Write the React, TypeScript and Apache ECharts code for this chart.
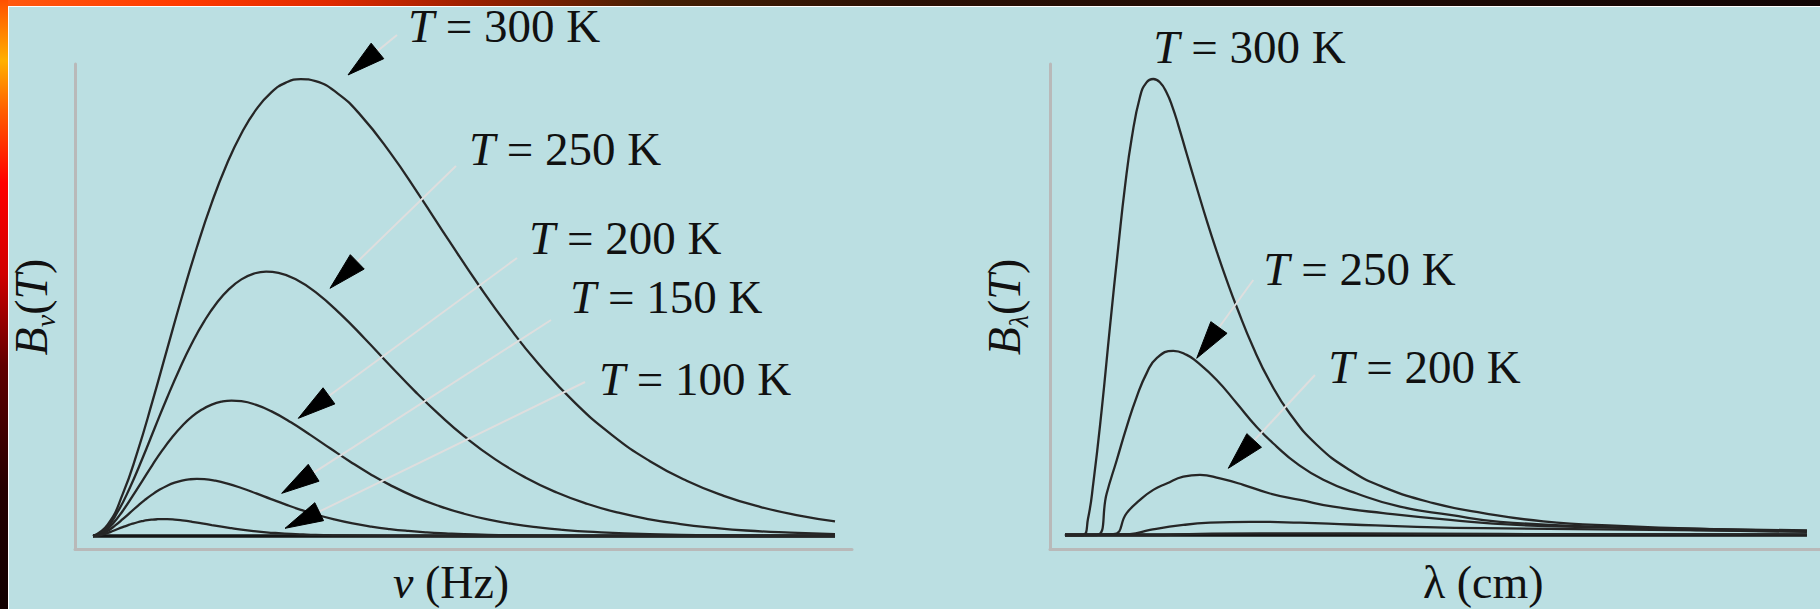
import React, { useEffect, useRef } from 'react';
import * as echarts from 'echarts';

// ---------- Left panel: B_nu(T) vs nu (arbitrary units, peak of 300 K = 100) ----------
const nuX300 = [0, 2, 4, 6, 8, 10, 12, 14, 16, 18, 20, 22, 24, 26, 28, 30, 33, 36, 40, 44, 48, 52, 56, 60, 65, 70, 75, 80, 85, 90, 95, 100];
const nuY300 = [0, 2.54, 9.15, 18.48, 29.39, 40.94, 52.4, 63.18, 72.9, 81.25, 88.09, 93.34, 97.03, 99.2, 99.99, 99.52, 96.81, 92.2, 84.0, 74.49, 64.57, 54.87, 45.86, 37.76, 29.09, 22.03, 16.43, 12.09, 8.79, 6.33, 4.52, 3.19];
const nuX250 = [0, 1.67, 3.33, 5, 6.67, 8.33, 10, 11.67, 13.33, 15, 16.67, 18.33, 20, 21.67, 23.33, 25, 27.5, 30, 33.33, 36.67, 40, 43.33, 46.67, 50, 54.17, 58.33, 62.5, 66.67, 70.83, 75, 79.17, 83.33, 88, 94, 100];
const nuY250 = [0, 1.47, 5.3, 10.69, 17.01, 23.69, 30.32, 36.56, 42.19, 47.02, 50.98, 54.02, 56.15, 57.41, 57.87, 57.59, 56.02, 53.36, 48.61, 43.11, 37.37, 31.75, 26.54, 21.85, 16.83, 12.75, 9.51, 7.0, 5.09, 3.66, 2.62, 1.85, 1.2, 0.73, 0.43];
const nuX200 = [0, 1.33, 2.67, 4, 5.33, 6.67, 8, 9.33, 10.67, 12, 13.33, 14.67, 16, 17.33, 18.67, 20, 22, 24, 26.67, 29.33, 32, 34.67, 37.33, 40, 43.33, 46.67, 50, 53.33, 56.67, 60, 63.33, 66.67, 75, 85, 100];
const nuY200 = [0, 0.75, 2.71, 5.48, 8.71, 12.13, 15.53, 18.72, 21.6, 24.07, 26.1, 27.66, 28.75, 29.39, 29.63, 29.49, 28.68, 27.32, 24.89, 22.07, 19.13, 16.26, 13.59, 11.19, 8.62, 6.53, 4.87, 3.58, 2.6, 1.88, 1.34, 0.95, 0.39, 0.12, 0.02];
const nuX150 = [0, 1, 2, 3, 4, 5, 6, 7, 8, 9, 10, 11, 12, 13, 14, 15, 16.5, 18, 20, 22, 24, 26, 28, 30, 32.5, 35, 37.5, 40, 42.5, 45, 47.5, 50, 60, 75, 100];
const nuY150 = [0, 0.32, 1.14, 2.31, 3.67, 5.12, 6.55, 7.9, 9.11, 10.16, 11.01, 11.67, 12.13, 12.4, 12.5, 12.44, 12.1, 11.53, 10.5, 9.31, 8.07, 6.86, 5.73, 4.72, 3.64, 2.75, 2.05, 1.51, 1.1, 0.79, 0.57, 0.4, 0.09, 0.01, 0];
const nuX100 = [0, 0.67, 1.33, 2, 2.67, 3.33, 4, 4.67, 5.33, 6, 6.67, 7.33, 8, 8.67, 9.33, 10, 11, 12, 13.33, 14.67, 16, 17.33, 18.67, 20, 21.67, 23.33, 25, 26.67, 28.33, 30, 31.67, 33.33, 40, 50, 100];
const nuY100 = [0, 0.09, 0.34, 0.68, 1.09, 1.52, 1.94, 2.34, 2.7, 3.01, 3.26, 3.46, 3.59, 3.67, 3.7, 3.69, 3.59, 3.41, 3.11, 2.76, 2.39, 2.03, 1.7, 1.4, 1.08, 0.81, 0.61, 0.45, 0.33, 0.23, 0.17, 0.12, 0.03, 0.003, 0];
const nuBaseX = [0, 100];
const nuBaseY = [0, 0];

// ---------- Right panel: B_lambda(T) vs lambda ----------
const lamX300 = [0.93, 3.3, 4.0, 4.71, 5.83, 6.94, 8.05, 8.95, 9.84, 10.95, 11.8, 12.72, 13.6, 14.51, 15.3, 16.06, 17.18, 18.52, 19.85, 21.19, 22.52, 23.86, 26.07, 28.3, 30.97, 34.54, 38.99, 43.43, 50.11, 56.78, 64.79, 75, 87, 100];
const lamY300 = [0, 0, 3.5, 11.3, 27.4, 45.7, 63.2, 76.5, 87.0, 96.1, 99.2, 100, 99.3, 97.0, 93.8, 89.9, 83.6, 76.2, 69.0, 62.2, 55.9, 50.0, 41.1, 33.6, 26.6, 19.8, 14.2, 10.5, 7.0, 4.8, 3.0, 2.0, 1.3, 0.9];
const lamX250 = [0.93, 5.17, 6.5, 7.84, 9.17, 10.51, 11.84, 13.18, 15.39, 17.18, 18.52, 21.19, 23.86, 26.53, 29.2, 31.87, 35.42, 39.88, 45.66, 52.34, 59.01, 72.4, 85.7, 100];
const lamY250 = [0, 0, 9.1, 16.4, 23.7, 30.3, 35.5, 38.8, 40.4, 39.5, 38.0, 34.0, 28.9, 23.7, 19.4, 15.7, 12.1, 9.1, 6.2, 4.4, 2.9, 1.8, 1.1, 0.7];
const lamX200 = [0.93, 7.38, 9.17, 10.95, 12.72, 14.51, 16.73, 18.96, 21.63, 24.74, 28.3, 32.31, 36.76, 43.43, 52.34, 61.24, 79.1, 100];
const lamY200 = [0, 0.2, 4.8, 7.7, 9.9, 11.3, 12.8, 13.2, 12.4, 11.0, 9.1, 7.7, 6.2, 4.8, 3.3, 2.2, 1.5, 1.0];
const lamX150 = [0.93, 9.6, 12.28, 16.73, 20.29, 25.63, 32.31, 38.99, 47.89, 56.78, 100];
const lamY150 = [0, 0.2, 1.1, 2.2, 2.7, 2.9, 2.7, 2.3, 1.8, 1.5, 0.8];
const lamX100 = [0.93, 12.3, 18.96, 26.97, 38.99, 59.0, 100];
const lamY100 = [0, 0, 0.25, 0.37, 0.33, 0.22, 0.1];
const lamBaseX = [0.93, 100];
const lamBaseY = [0, 0];

// ---------- Annotations (in data units) ----------
const nuTemps = [300, 250, 200, 150, 100];
const nuLabelU = [42.45, 50.67, 58.76, 64.29, 68.19];
const nuLabelV = [111.6, 84.68, 65.21, 52.3, 34.35];
const nuArrowFromU = [40.97, 48.92, 57.14, 61.73, 66.31];
const nuArrowFromV = [109.63, 80.96, 60.83, 47.26, 33.7];
const nuArrowToU = [34.37, 31.94, 27.67, 25.43, 25.88];
const nuArrowToV = [100.88, 54.2, 25.75, 9.34, 1.68];

const lamTemps = [300, 250, 200];
const lamLabelU = [12.72, 27.41, 36.09];
const lamLabelV = [107.06, 58.33, 36.77];
const lamArrowTemps = [250, 200];
const lamArrowFromU = [26.07, 34.31];
const lamArrowFromV = [55.92, 35.09];
const lamArrowToU = [18.52, 22.74];
const lamArrowToV = [38.75, 14.63];

const W = 1820;
const H = 609;
const SERIF = '"Liberation Serif", "DejaVu Serif", serif';
const CURVE = '#262626';
const AXIS = '#b9b9b9';

const zip = (xs: number[], ys: number[]) => xs.map((x, i) => [x, ys[i]]);

export default function App() {
  const ref = useRef<HTMLDivElement>(null);

  useEffect(() => {
    const chart = echarts.init(ref.current!, null, { renderer: 'svg', width: W, height: H });

    const axisCommon = {
      type: 'value' as const,
      axisLine: { show: true, onZero: false, lineStyle: { color: AXIS, width: 3 } },
      axisTick: { show: false },
      axisLabel: { show: false },
      splitLine: { show: false },
    };

    const mkLine = (name: string, data: number[][], gi: number, width = 2.3, color = CURVE) => ({
      type: 'line',
      name,
      xAxisIndex: gi,
      yAxisIndex: gi,
      data,
      showSymbol: false,
      symbol: 'none',
      smooth: 0.5,
      silent: true,
      clip: false,
      lineStyle: { color, width },
      z: 3,
    });

    chart.setOption({
      animation: false,
      backgroundColor: '#bbdfe2',
      grid: [
        { left: 75, top: 64, width: 777, height: 485 },
        { left: 1050, top: 64, width: 770, height: 485 },
      ],
      xAxis: [
        { ...axisCommon, gridIndex: 0, min: -2.426, max: 102.29 },
        { ...axisCommon, gridIndex: 1, min: -1.068, max: 101.74 },
      ],
      yAxis: [
        { ...axisCommon, gridIndex: 0, min: -2.845, max: 103.28 },
        { ...axisCommon, gridIndex: 1, min: -3.07, max: 103.29 },
      ],
      series: [
        mkLine('baseline ν', zip(nuBaseX, nuBaseY), 0, 3.5, '#151515'),
        mkLine('300 K', zip(nuX300, nuY300), 0),
        mkLine('250 K', zip(nuX250, nuY250), 0),
        mkLine('200 K', zip(nuX200, nuY200), 0),
        mkLine('150 K', zip(nuX150, nuY150), 0),
        mkLine('100 K', zip(nuX100, nuY100), 0),
        mkLine('baseline λ', zip(lamBaseX, lamBaseY), 1, 3.5, '#151515'),
        mkLine('300 K λ', zip(lamX300, lamY300), 1),
        mkLine('250 K λ', zip(lamX250, lamY250), 1),
        mkLine('200 K λ', zip(lamX200, lamY200), 1),
        mkLine('150 K λ', zip(lamX150, lamY150), 1),
        mkLine('100 K λ', zip(lamX100, lamY100), 1),
      ],
    });

    const px = (gi: number, u: number, v: number) =>
      chart.convertToPixel({ gridIndex: gi } as any, [u, v]) as number[];

    const richT = {
      i: { fontStyle: 'italic', fontSize: 47, fontFamily: SERIF, fill: '#111' },
    };
    const labelEl = (gi: number, u: number, v: number, t: number) => {
      const [x, y] = px(gi, u, v);
      return {
        type: 'text',
        x,
        y,
        z: 100,
        silent: true,
        style: {
          text: `{i|T} = ${t} K`,
          rich: richT,
          fontSize: 47,
          fontFamily: SERIF,
          fill: '#111',
          align: 'left',
          verticalAlign: 'middle',
        },
      };
    };

    const arrowEls = (gi: number, fu: number, fv: number, tu: number, tv: number) => {
      const [sx, sy] = px(gi, fu, fv);
      const [tx, ty] = px(gi, tu, tv);
      const dx = sx - tx;
      const dy = sy - ty;
      const len = Math.hypot(dx, dy) || 1;
      const ux = dx / len;
      const uy = dy / len;
      const L = 38;
      const hw = 10;
      const bx = tx + ux * L;
      const by = ty + uy * L;
      const nx = -uy;
      const ny = ux;
      return [
        {
          type: 'line',
          z: 90,
          silent: true,
          shape: { x1: sx, y1: sy, x2: bx - ux * 4, y2: by - uy * 4 },
          style: { stroke: '#dedede', lineWidth: 2 },
        },
        {
          type: 'polygon',
          z: 91,
          silent: true,
          shape: {
            points: [
              [tx, ty],
              [bx + nx * hw, by + ny * hw],
              [bx - nx * hw, by - ny * hw],
            ],
          },
          style: { fill: '#000', stroke: '#000', lineWidth: 1 },
        },
      ];
    };

    const graphics: any[] = [];
    // frame
    graphics.push({
      type: 'rect',
      z: 50,
      silent: true,
      shape: { x: 0, y: 0, width: W, height: 6 },
      style: {
        fill: new echarts.graphic.LinearGradient(0, 0, 1, 0, [
          { offset: 0, color: '#ff5a10' },
          { offset: 0.1, color: '#ff3a00' },
          { offset: 0.18, color: '#e02a00' },
          { offset: 0.26, color: '#9a2000' },
          { offset: 0.36, color: '#452005' },
          { offset: 0.5, color: '#2a1005' },
          { offset: 1, color: '#120505' },
        ]),
      },
    });
    graphics.push({
      type: 'rect',
      z: 51,
      silent: true,
      shape: { x: 0, y: 0, width: 8, height: H },
      style: {
        fill: new echarts.graphic.LinearGradient(0, 0, 0, 1, [
          { offset: 0, color: '#ff5000' },
          { offset: 0.1, color: '#ffb000' },
          { offset: 0.18, color: '#ff6000' },
          { offset: 0.3, color: '#ff0000' },
          { offset: 0.45, color: '#d00000' },
          { offset: 0.6, color: '#600000' },
          { offset: 0.8, color: '#250000' },
          { offset: 1, color: '#100000' },
        ]),
      },
    });
    graphics.push({ type: 'rect', z: 52, silent: true, shape: { x: 8, y: 6, width: 1, height: H - 6 }, style: { fill: '#ffffff' } });
    graphics.push({ type: 'rect', z: 52, silent: true, shape: { x: 8, y: 6, width: W - 8, height: 1 }, style: { fill: '#ffffff' } });

    // left panel annotations
    nuTemps.forEach((t, i) => {
      graphics.push(labelEl(0, nuLabelU[i], nuLabelV[i], t));
      graphics.push(...arrowEls(0, nuArrowFromU[i], nuArrowFromV[i], nuArrowToU[i], nuArrowToV[i]));
    });
    // right panel annotations
    lamTemps.forEach((t, i) => {
      graphics.push(labelEl(1, lamLabelU[i], lamLabelV[i], t));
    });
    lamArrowTemps.forEach((_t, i) => {
      graphics.push(...arrowEls(1, lamArrowFromU[i], lamArrowFromV[i], lamArrowToU[i], lamArrowToV[i]));
    });

    // axis titles
    const titleRich = {
      i: { fontStyle: 'italic', fontSize: 46, fontFamily: SERIF, fill: '#111' },
    };
    graphics.push({
      type: 'text', x: 393, y: 582, z: 100, silent: true,
      style: { text: '{i|ν} (Hz)', rich: titleRich, fontSize: 46, fontFamily: SERIF, fill: '#111', align: 'left', verticalAlign: 'middle' },
    });
    graphics.push({
      type: 'text', x: 1423, y: 582, z: 100, silent: true,
      style: { text: 'λ (cm)', fontSize: 46, fontFamily: SERIF, fill: '#111', align: 'left', verticalAlign: 'middle' },
    });
    const yRich = {
      i: { fontStyle: 'italic', fontSize: 46, fontFamily: SERIF, fill: '#111', lineHeight: 56 },
      n: { fontSize: 46, fontFamily: SERIF, fill: '#111', lineHeight: 56 },
      s: { fontStyle: 'italic', fontSize: 28, fontFamily: SERIF, fill: '#111', lineHeight: 28, verticalAlign: 'bottom' },
    };
    graphics.push({
      type: 'text', x: 31, y: 307, rotation: Math.PI / 2, z: 100, silent: true,
      style: { text: '{i|B}{s|ν}{n|(}{i|T}{n|)}', rich: yRich, fontSize: 46, fontFamily: SERIF, fill: '#111', align: 'center', verticalAlign: 'middle' },
    });
    graphics.push({
      type: 'text', x: 1004, y: 307, rotation: Math.PI / 2, z: 100, silent: true,
      style: { text: '{i|B}{s|λ}{n|(}{i|T}{n|)}', rich: yRich, fontSize: 46, fontFamily: SERIF, fill: '#111', align: 'center', verticalAlign: 'middle' },
    });

    chart.setOption({ graphic: { elements: graphics } });

    return () => {
      chart.dispose();
    };
  }, []);

  return (
    <div
      ref={ref}
      style={{ position: 'fixed', left: 0, top: 0, width: W, height: H, background: '#bbdfe2' }}
    />
  );
}
